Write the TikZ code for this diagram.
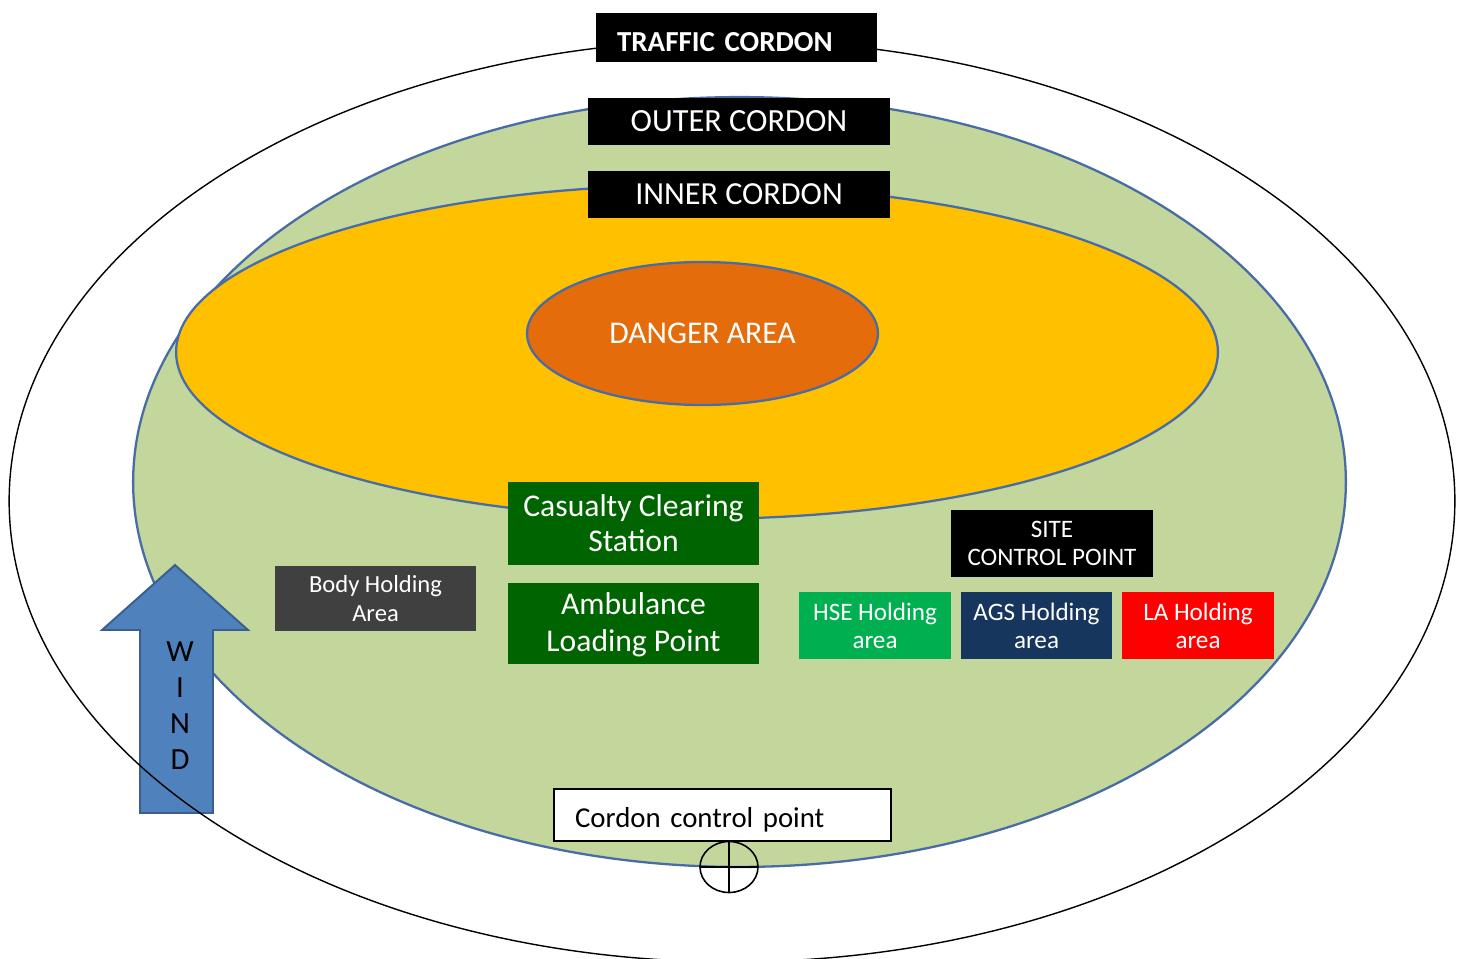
\documentclass[tikz,border=0pt]{standalone}
\usepackage{fontspec}
\setmainfont{Carlito}
\usetikzlibrary{shapes.geometric}
\definecolor{edgeblue}{RGB}{72,108,165}
\definecolor{greenzone}{RGB}{195,214,155}
\definecolor{orangezone}{RGB}{255,192,0}
\definecolor{dangerfill}{RGB}{228,108,10}
\definecolor{darkgreen}{RGB}{0,100,0}
\definecolor{hsegreen}{RGB}{0,176,80}
\definecolor{agsblue}{RGB}{23,54,93}
\definecolor{lared}{RGB}{255,0,0}
\definecolor{bodygray}{RGB}{64,64,64}
\definecolor{windblue}{RGB}{79,129,189}
\definecolor{windedge}{RGB}{58,95,143}
\newcommand{\lowered}[2]{\raisebox{-#1}[\height][\depth]{#2}}
\tikzset{
  zone/.style={draw=edgeblue, line width=1.3pt},
  labelbox/.style={rectangle, inner sep=0pt, align=center, text=white, draw=none},
  blackbox/.style={labelbox, fill=black},
  bigtext/.style={font=\fontsize{18.3}{20}\selectfont},
  midtext/.style={font=\fontsize{18}{20}\selectfont},
  smalltext/.style={font=\fontsize{14.3}{16}\selectfont},
}
\begin{document}
\begin{tikzpicture}[x=0.02cm,y=-0.02cm]
\useasboundingbox (0,0) rectangle (1460,958);
\clip (0,0) rectangle (1460,958);
\fill[white] (0,0) rectangle (1460,958);
% zones
\fill[white] (732,501) ellipse [x radius=14.46cm, y radius=9.22cm];
\filldraw[zone, fill=greenzone] (739.5,482) ellipse [x radius=12.13cm, y radius=7.70cm];
\filldraw[zone, fill=orangezone] (697,352) ellipse [x radius=10.42cm, y radius=3.34cm];
\node[ellipse, zone, fill=dangerfill, minimum width=7.02cm, minimum height=2.86cm, inner sep=0pt, text=white, font=\fontsize{18}{20}\selectfont] (danger) at (702.5,333.5) {DANGER AREA};
% wind arrow
\filldraw[fill=windblue, draw=windedge, line width=1.1pt] (140,813) -- (140,630) -- (102,630) -- (175,565) -- (248,630) -- (213,630) -- (213,813) -- cycle;
\node[align=center, font=\fontsize{17.5}{20.5}\selectfont, inner sep=0pt] (wind) at (180,706) {W\\I\\N\\D};
% traffic cordon line on top
\draw[black, line width=0.8pt] (732,501) ellipse [x radius=14.46cm, y radius=9.22cm];
% cordon labels
\node[blackbox, font=\bfseries\fontsize{16.5}{20}\selectfont, minimum width=5.62cm, minimum height=0.98cm, text width=4.78cm, align=left, inner xsep=0.42cm] (traffic) at (736.5,37.5) {\lowered{0.1cm}{TRAFFIC CORDON}};
\node[blackbox, font=\fontsize{18.4}{20}\selectfont, minimum width=6.04cm, minimum height=0.94cm] (outer) at (739,121.5) {OUTER CORDON};
\node[blackbox, bigtext, minimum width=6.04cm, minimum height=0.94cm] (inner) at (739,194.5) {INNER CORDON};
% areas
\node[labelbox, fill=darkgreen, midtext, minimum width=5.02cm, minimum height=1.66cm] (ccs) at (633.5,523.5) {Casualty Clearing\\Station};
\node[labelbox, fill=darkgreen, midtext, minimum width=5.02cm, minimum height=1.62cm] (alp) at (633.5,623.5) {Ambulance\\\lowered{0.04cm}{Loading Point}};
\node[labelbox, fill=bodygray, font=\fontsize{14}{16}\selectfont, minimum width=4.02cm, minimum height=1.30cm] (body) at (375.5,598.5) {Body Holding\\Area};
\node[blackbox, smalltext, minimum width=4.04cm, minimum height=1.34cm] (site) at (1052,543.5) {SITE\\CONTROL POINT};
\node[labelbox, fill=hsegreen, smalltext, minimum width=3.04cm, minimum height=1.34cm] (hse) at (875,625.5) {HSE Holding\\area};
\node[labelbox, fill=agsblue, smalltext, minimum width=3.02cm, minimum height=1.34cm] (ags) at (1036.5,625.5) {AGS Holding\\area};
\node[labelbox, fill=lared, smalltext, minimum width=3.04cm, minimum height=1.34cm] (la) at (1198,625.5) {LA Holding\\area};
% cordon control point
\node[rectangle, draw=black, line width=0.9pt, fill=white, font=\fontsize{16.4}{20}\selectfont, minimum width=6.74cm, minimum height=1.04cm, text width=5.9cm, align=left, inner xsep=0.42cm, inner ysep=0pt] (ccp) at (722.5,815) {\lowered{0.1cm}{Cordon control point}};
\draw[black, line width=0.9pt] (729,867) ellipse [x radius=0.58cm, y radius=0.51cm];
\coordinate (cl) at (700,867);
\coordinate (cr) at (758,867);
\coordinate (ct) at (729,841.5);
\coordinate (cb) at (729,892.5);
\draw[black, line width=0.9pt] (cl) -- (cr);
\draw[black, line width=0.9pt] (ct) -- (cb);
\end{tikzpicture}
\end{document}
